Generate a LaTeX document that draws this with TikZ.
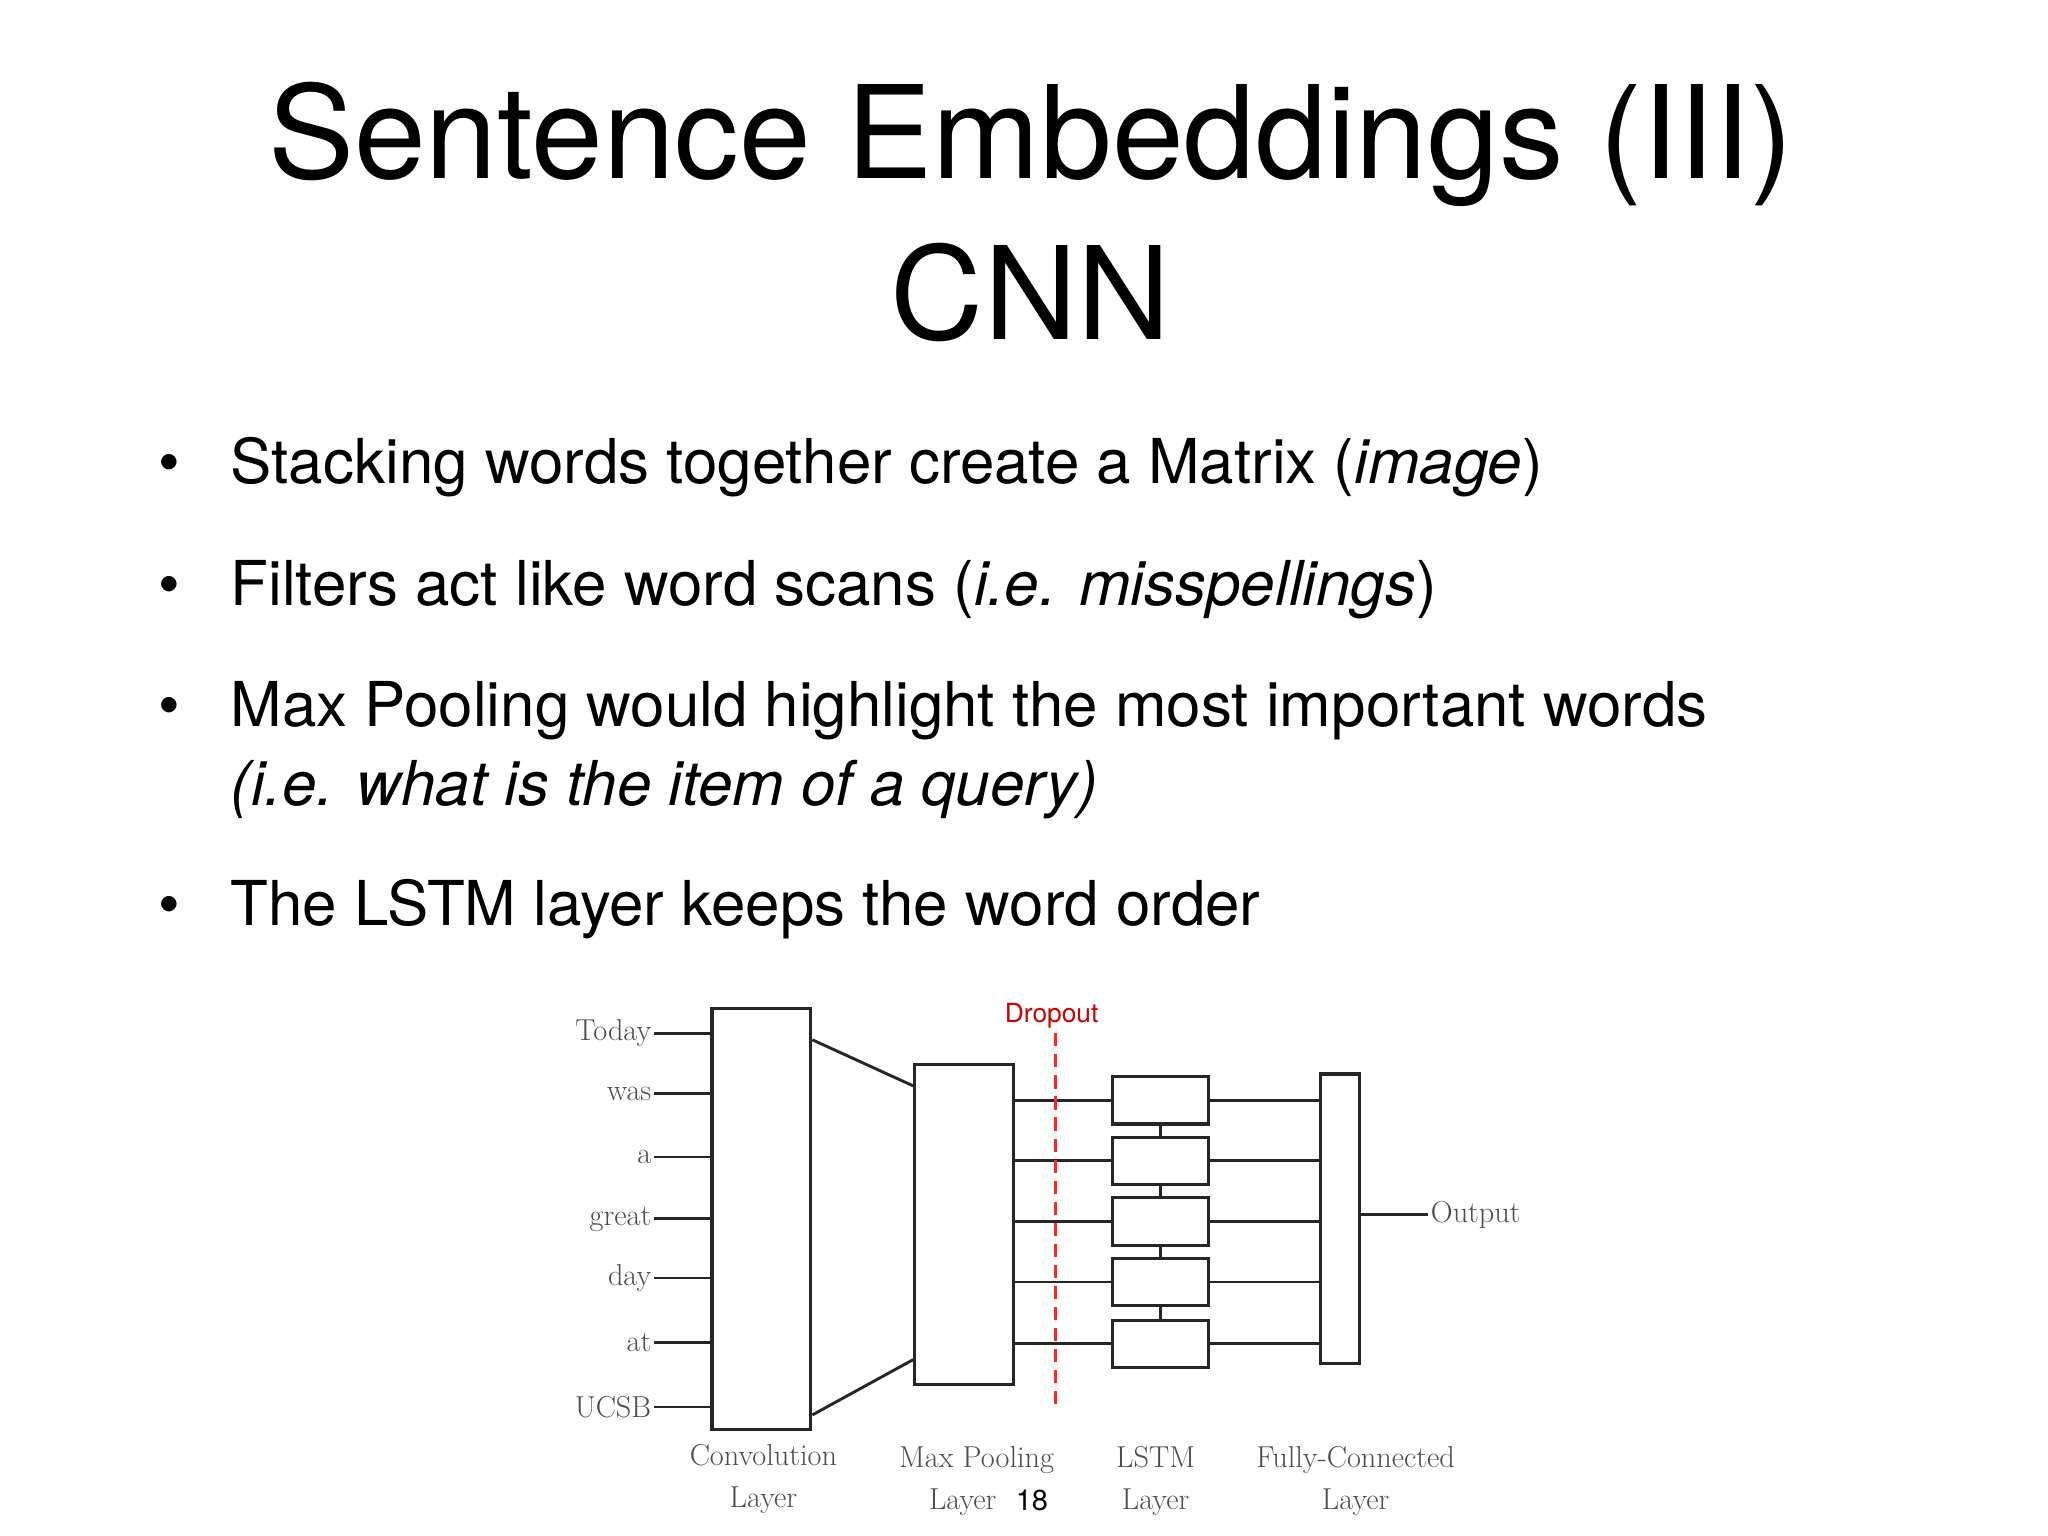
\documentclass[tikz,border=0pt]{standalone}
\usepackage{fontspec}
\setsansfont{TeX Gyre Heros}
\begin{document}
\begin{tikzpicture}[x=1pt,y=-1pt,
  ln/.style={line width=2.2pt,black!85},
  bx/.style={draw=black!85,line width=2.4pt,fill=white},
  wd/.style={font=\fontsize{23}{26}\selectfont,text=black!70,anchor=east,inner sep=2pt},
  lab/.style={font=\fontsize{23}{32}\selectfont,text=black!70,align=center},
  bul/.style={font=\sffamily\fontsize{47}{60}\selectfont,anchor=base west,inner sep=0pt}]
\useasboundingbox (0,0) rectangle (1556,1167);
\node[font=\sffamily\fontsize{98}{110}\selectfont] (t1) at (783,110) {Sentence Embeddings (III)};
\node[font=\sffamily\fontsize{98}{110}\selectfont] (t2) at (783,222) {CNN};
\foreach \y/\t in {367/{Stacking words together create a Matrix (\textit{image})},
  460/{Filters act like word scans (\textit{i.e. misspellings})},
  552/{Max Pooling would highlight the most important words},
  703/{The LSTM layer keeps the word order}}
  {\node[bul] at (120,\y) {\textbullet}; \node[bul] at (175,\y) {\t};}
\node[bul] (b3b) at (175,612) {\textit{(i.e. what is the item of a query)}};
% conv
\node[bx,minimum width=75pt,minimum height=320pt,inner sep=0pt] (conv) at (578.5,926) {};
\foreach \n/\w/\y in {1/Today/785,2/was/831,3/a/879,4/great/926,5/day/971,6/at/1020,7/UCSB/1069}{
  \coordinate (c\n) at (541,\y);
  \node[wd] (w\n) at (497,\y) {\w};
  \draw[ln] (w\n.east) -- (c\n);}
\node[bx,minimum width=75pt,minimum height=243pt,inner sep=0pt] (mp) at (732.5,930.5) {};
\draw[ln] (conv.east|-0,790) -- (mp.west|-0,825);
\draw[ln] (conv.east|-0,1075) -- (mp.west|-0,1033);
\foreach \n/\y in {1/836,2/882,3/928,4/974,5/1021}{
  \node[bx,minimum width=73pt,minimum height=36pt,inner sep=0pt] (l\n) at (881.5,\y) {};
  \draw[ln] (mp.east|-l\n) -- (l\n.west);}
\node[bx,minimum width=30pt,minimum height=220pt,inner sep=0pt] (fc) at (1018,926) {};
\foreach \n in {1,...,5}{\draw[ln] (l\n.east) -- (fc.west|-l\n);}
\foreach \a/\b in {1/2,2/3,3/4,4/5}{\draw[ln] (l\a.south) -- (l\b.north);}
\node[wd,anchor=west] (out) at (1085,923) {Output};
\draw[ln] (fc.east|-out) -- (out.west);
\node[font=\sffamily\fontsize{20}{24}\selectfont,text=red!80!black] (dr) at (799,772) {Dropout};
\coordinate (de) at (802,1070);
\draw[red!85,line width=2.4pt,dash pattern=on 10pt off 6pt] (dr.south-|de) -- (de);
\node[lab] (n1) at (580,1124) {Convolution\\Layer};
\node[lab] (n2) at (742,1125) {Max Pooling\\Layer\phantom{18}};
\node[lab] (n3) at (878,1125) {LSTM\\Layer};
\node[lab] (n4) at (1030,1125) {Fully-Connected\\Layer};
\node[font=\sffamily\fontsize{22}{26}\selectfont] (pg) at (784,1140) {18};
\end{tikzpicture}
\end{document}
